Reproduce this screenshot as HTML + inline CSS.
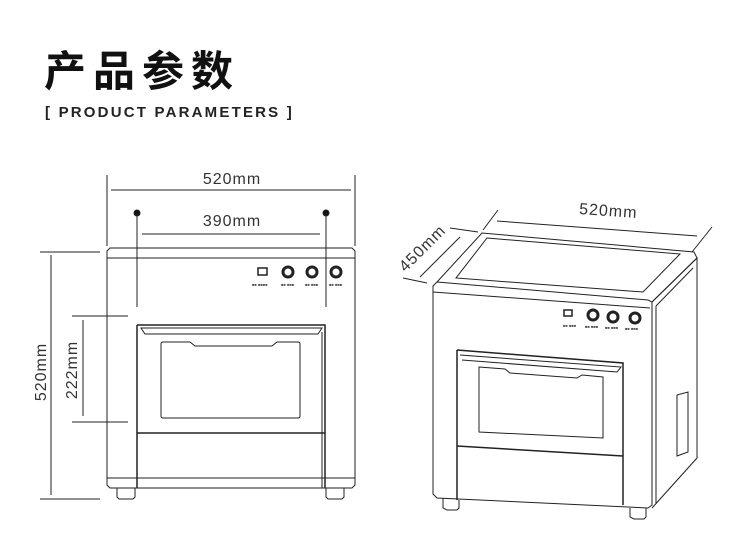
<!DOCTYPE html>
<html><head><meta charset="utf-8"><style>
body{margin:0;background:#fff;width:750px;height:552px;overflow:hidden;}
.t{position:absolute;left:44px;top:38px;font:bold 42px "Liberation Sans","Noto Sans CJK SC",sans-serif;letter-spacing:7px;color:#111;}
.s{position:absolute;left:45px;top:104px;font:bold 15px "Liberation Sans",sans-serif;letter-spacing:2.2px;color:#222;}
svg{position:absolute;left:0;top:0}
</style></head><body>
<div class="t">产品参数</div>
<div class="s">[ PRODUCT PARAMETERS ]</div>
<svg width="750" height="552" fill="none" stroke="#222" stroke-width="1" font-family="Liberation Sans, sans-serif">
<!-- left dims -->
<line x1="107" y1="175" x2="107" y2="246"/><line x1="355" y1="175" x2="355" y2="246"/>
<line x1="111" y1="190" x2="351" y2="190"/>
<text x="232" y="184" font-size="16" fill="#333" stroke="none" text-anchor="middle" letter-spacing="1">520mm</text>
<circle cx="137" cy="213" r="3" fill="#111"/><circle cx="326" cy="213" r="3" fill="#111"/>
<line x1="137" y1="213" x2="137" y2="307"/><line x1="326" y1="213" x2="326" y2="307"/>
<line x1="142" y1="234" x2="320" y2="234"/>
<text x="232" y="226" font-size="16" fill="#333" stroke="none" text-anchor="middle" letter-spacing="1">390mm</text>
<line x1="40" y1="252" x2="100" y2="252"/><line x1="40" y1="499" x2="100" y2="499"/>
<line x1="51" y1="255" x2="51" y2="495"/>
<text transform="translate(46,372) rotate(-90)" font-size="16" fill="#333" stroke="none" text-anchor="middle" letter-spacing="1">520mm</text>
<line x1="72" y1="316" x2="128" y2="316"/><line x1="72" y1="422" x2="128" y2="422"/>
<line x1="83" y1="320" x2="83" y2="416"/>
<text transform="translate(77,370) rotate(-90)" font-size="16" fill="#333" stroke="none" text-anchor="middle" letter-spacing="1">222mm</text>
<!-- left appliance -->
<path d="M110 248H352L355 251V485L352 488H110L107 485V251Z"/>
<line x1="107" y1="258" x2="355" y2="258"/><line x1="107" y1="478" x2="355" y2="478"/>
<path d="M117 488V497L119 499H133L135 497V488M326 488V497L328 499H342L344 497V488"/>
<path d="M137 325H325V488M137 488V325" stroke-width="1.5"/>
<path d="M141 328H322L318 334H145Z"/><line x1="322" y1="332" x2="322" y2="488"/>
<line x1="137" y1="433" x2="325" y2="433" stroke-width="1.5"/>
<path d="M163 342H190L195 346H272L277 342H298Q300 342 300 344V416Q300 418 298 418H163Q161 418 161 416V344Q161 342 163 342Z"/>
<rect x="258" y="268" width="9" height="7" stroke-width="1.5"/>
<circle cx="288" cy="272" r="5" stroke-width="3"/><circle cx="312" cy="272" r="5" stroke-width="3"/><circle cx="336" cy="272" r="5" stroke-width="3"/>
<g stroke="none" fill="#555" font-size="4"><text x="252" y="286">■■ ■■■■</text><text x="281" y="286">■■ ■■■</text><text x="305" y="286">■■ ■■■</text><text x="329" y="286">■■ ■■■</text></g>
<!-- right dims -->
<line x1="497" y1="221" x2="697" y2="236"/>
<line x1="483" y1="230" x2="498" y2="210"/><line x1="692" y1="252" x2="712" y2="227"/>
<text transform="translate(608,216) rotate(4)" font-size="16" fill="#333" stroke="none" text-anchor="middle" letter-spacing="1">520mm</text>
<line x1="420" y1="277" x2="460" y2="237"/>
<line x1="403" y1="278" x2="427" y2="283"/><line x1="450" y1="228" x2="478" y2="232"/>
<text transform="translate(426,252) rotate(-45)" font-size="16" fill="#333" stroke="none" text-anchor="middle" letter-spacing="1">450mm</text>
<!-- right appliance -->
<path d="M437 282L482 233L694 252L697 258L652 302"/>
<path d="M437 282L648 300L652 302L652 505L648 508L437 498L433 494V286Z"/>
<line x1="433" y1="292" x2="650" y2="308"/>
<path d="M487 238L680 254L643 292L456 278Z"/>
<path d="M652 302L697 258V458L652 508"/>
<path d="M656 306L693 268"/><path d="M656 306V503"/>
<path d="M677 395L688 392V452L677 456Z"/>
<path d="M457 350L623 363V505M457 350V500" stroke-width="1.5"/>
<path d="M460 355L621 367L617 372L462 360"/>
<path d="M479 367L505 369L510 373L577 378L582 375L603 377V438L479 432Z"/>
<path d="M457 446L623 456" stroke-width="1.5"/>
<path d="M443 498V508L447 510H457L459 508V500M630 508V517L634 519H644L646 517V508"/>
<rect x="564" y="310" width="8" height="6" stroke-width="1.5"/>
<circle cx="593" cy="315" r="5" stroke-width="3"/><circle cx="613" cy="317" r="5" stroke-width="3"/><circle cx="635" cy="318" r="5" stroke-width="3"/>
<g stroke="none" fill="#555" font-size="4"><text x="563" y="327">■■ ■■■</text><text x="585" y="328">■■ ■■■</text><text x="605" y="329">■■ ■■■</text><text x="625" y="330">■■ ■■■</text></g>
</svg>
</body></html>
